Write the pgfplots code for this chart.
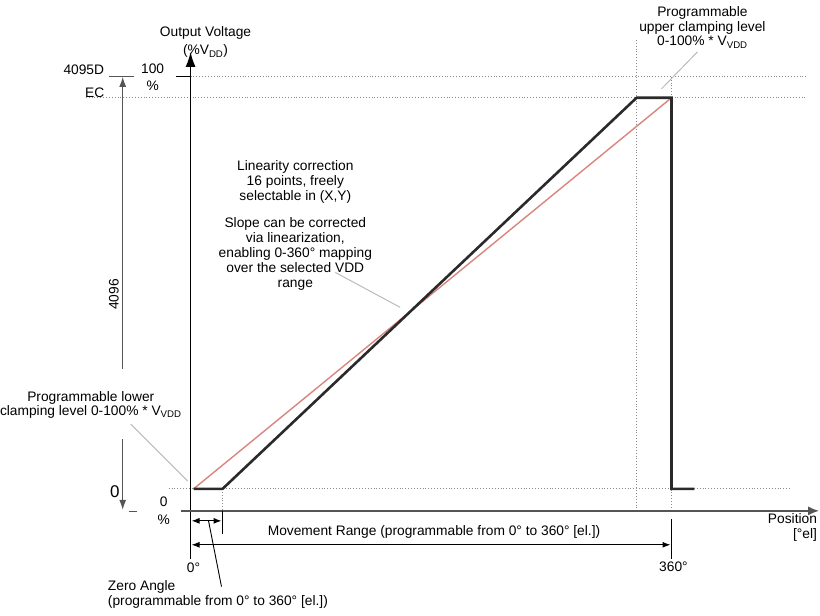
\documentclass[border=0pt]{standalone}
\usepackage{fontspec}
\setmainfont{Liberation Sans}
\usepackage{pgfplots}
\pgfplotsset{compat=1.18}
\usetikzlibrary{arrows.meta}
\definecolor{curve}{HTML}{2A2A2A}
\definecolor{redline}{HTML}{D9857D}
\definecolor{dotc}{HTML}{8A8A8A}
\definecolor{leader}{HTML}{BBBBBB}
\definecolor{axgray}{HTML}{555555}
\newcommand{\tl}[4][center]{\node[anchor=base,inner sep=0pt,font=\fontsize{13.8bp}{15bp}\selectfont] at (axis cs:#2,#3) {#4};}
\begin{document}
\begin{tikzpicture}
\begin{axis}[scale only axis, width=820bp, height=617bp,
  xmin=0, xmax=820, ymin=0, ymax=617, y dir=reverse,
  hide axis, clip=false]
\path (axis cs:0,0) rectangle (axis cs:820,617);
% dotted guide lines
\draw[dotc, line width=0.9bp, dotted] (axis cs:190,77) -- (axis cs:808,77);
\draw[dotc, line width=0.9bp, dotted] (axis cs:85,98) -- (axis cs:808,98);
\draw[dotc, line width=0.9bp, dotted] (axis cs:168,490) -- (axis cs:790,490);
\draw[dotc, line width=0.9bp, dotted] (axis cs:637,40) -- (axis cs:637,512);
\draw[dotc, line width=0.9bp, dotted] (axis cs:672,77) -- (axis cs:672,512);
\draw[dotc, line width=0.9bp, dotted] (axis cs:222,490) -- (axis cs:222,512);
% data
\addplot[redline, line width=1.4bp, no marks] coordinates {(193,490) (672,98)};
\addplot[curve, line width=2.6bp, no marks, line join=miter] coordinates {(193,490) (222,490) (637,98) (672,98) (672,490) (695,490)};
% axes
\draw[black, line width=1.5bp, -{Latex[length=15bp,width=10bp]}] (axis cs:190,560) -- (axis cs:190,52);
\draw[axgray, line width=1.7bp, -{Latex[length=11bp,width=9bp]}] (axis cs:180,512) -- (axis cs:820,512);
\draw[black, line width=1.3bp] (axis cs:175,77) -- (axis cs:190,77);
% left scale
\draw[axgray, line width=1.3bp] (axis cs:108,77) -- (axis cs:133,77);
\draw[axgray, line width=1.2bp, -{Latex[length=10bp,width=7bp]}] (axis cs:122,370) -- (axis cs:122,77);
\draw[axgray, line width=1.2bp, -{Latex[length=10bp,width=7bp]}] (axis cs:122,440) -- (axis cs:122,511);
\draw[axgray, line width=1.2bp] (axis cs:128,513) -- (axis cs:136,513);
% range markers
\draw[black, line width=1bp] (axis cs:222,512) -- (axis cs:222,535);
\draw[black, line width=1bp] (axis cs:672,520) -- (axis cs:672,560);
\draw[black, line width=1bp, {Latex[length=8bp,width=6bp]}-{Latex[length=8bp,width=6bp]}] (axis cs:191,522) -- (axis cs:221,522);
\draw[black, line width=1bp, {Latex[length=8bp,width=6bp]}-{Latex[length=8bp,width=6bp]}] (axis cs:191,546) -- (axis cs:671,546);
\draw[black, line width=0.9bp] (axis cs:208,522) -- (axis cs:221,588);
% leaders
\draw[leader, line width=1bp] (axis cs:698,52) -- (axis cs:662,89);
\draw[leader, line width=1bp] (axis cs:130,425) -- (axis cs:187,482);
\draw[leader, line width=1bp] (axis cs:335,273) -- (axis cs:400,308);
% texts
\tl{205}{37}{Output Voltage}
\tl{205}{55}{(\%V\textsubscript{DD})}
\tl{83}{75}{4095D}
\tl{94}{98}{EC}
\tl{152}{74}{100}
\tl{152}{91}{\%}
\node[anchor=base,inner sep=0pt,font=\fontsize{17bp}{19bp}\selectfont] at (axis cs:114,499) {0};
\tl{163}{508}{0}
\tl{163}{526}{\%}
\node[anchor=base,inner sep=0pt,rotate=90,font=\fontsize{13.8bp}{15bp}\selectfont] at (axis cs:118,295) {4096};
\tl{193}{574}{0°}
\tl{674}{573}{360°}
\node[anchor=base west,inner sep=0pt,font=\fontsize{13.8bp}{15bp}\selectfont] at (axis cs:107,592) {Zero Angle};
\node[anchor=base west,inner sep=0pt,font=\fontsize{13.8bp}{15bp}\selectfont] at (axis cs:107,607) {(programmable from 0° to 360° [el.])};
\tl{434}{537}{Movement Range (programmable from 0° to 360° [el.])}
\node[anchor=base east,inner sep=0pt,font=\fontsize{13.8bp}{15bp}\selectfont] at (axis cs:818,525) {Position};
\node[anchor=base east,inner sep=0pt,font=\fontsize{13.8bp}{15bp}\selectfont] at (axis cs:818,540) {[°el]};
\tl{90}{402}{Programmable lower}
\tl{90}{416}{clamping level 0-100\% * V\textsubscript{VDD}}
\tl{703}{17}{Programmable}
\tl{703}{32}{upper clamping level}
\tl{703}{46}{0-100\% * V\textsubscript{VDD}}
\tl{295}{171}{Linearity correction}
\tl{295}{186}{16 points, freely}
\tl{295}{201}{selectable in (X,Y)}
\tl{295}{228}{Slope can be corrected}
\tl{295}{243}{via linearization,}
\tl{295}{258}{enabling 0-360° mapping}
\tl{295}{273}{over the selected VDD}
\tl{295}{288}{range}
\end{axis}
\end{tikzpicture}
\end{document}
